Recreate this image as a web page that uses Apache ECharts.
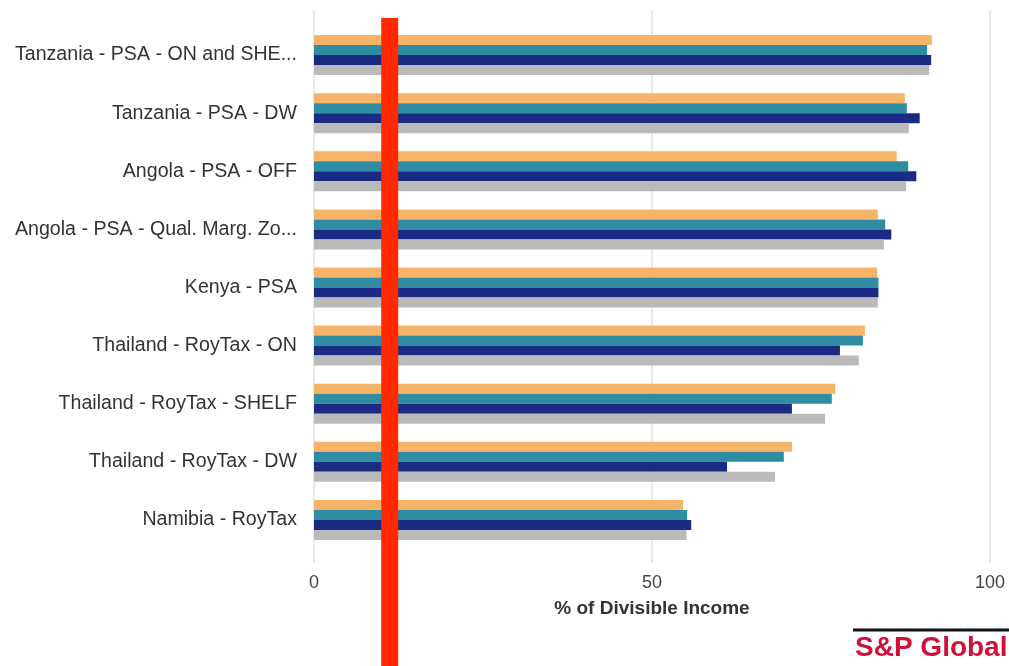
<!DOCTYPE html>
<html>
<head>
<meta charset="utf-8">
<script src="https://cdn.jsdelivr.net/npm/echarts@6/dist/echarts.min.js"></script>
<style>
html,body{margin:0;padding:0;background:#fff;}
#chart{width:1009px;height:666px;}
</style>
</head>
<body>
<div id="chart"></div>
<script>
const categories = [
  'Tanzania - PSA - ON and SHE...',
  'Tanzania - PSA - DW',
  'Angola - PSA - OFF',
  'Angola - PSA - Qual. Marg. Zo...',
  'Kenya - PSA',
  'Thailand - RoyTax - ON',
  'Thailand - RoyTax - SHELF',
  'Thailand - RoyTax - DW',
  'Namibia - RoyTax'
];
const seriesNames = ['Series 1', 'Series 2', 'Series 3', 'Series 4'];
const seriesOrange = [91.4, 87.4, 86.2, 83.4, 83.3, 81.5, 77.1, 70.7, 54.6];
const seriesTeal   = [90.7, 87.7, 87.9, 84.5, 83.5, 81.2, 76.6, 69.5, 55.2];
const seriesNavy   = [91.3, 89.6, 89.1, 85.4, 83.5, 77.8, 70.7, 61.1, 55.8];
const seriesGray   = [91.0, 88.0, 87.6, 84.3, 83.4, 80.6, 75.6, 68.2, 55.1];
const xTicks = [0, 50, 100];
const redLineValue = 11.2;
const colors = ['#f5b468', '#2f8ca2', '#1b2a82', '#bababa'];

const chart = echarts.init(document.getElementById('chart'), null, {renderer: 'canvas'});
const allData = [seriesOrange, seriesTeal, seriesNavy, seriesGray];

const option = {
  backgroundColor: '#ffffff',
  animation: false,
  textStyle: {fontFamily: '"Liberation Sans", Arial, sans-serif'},
  grid: [
    {left: 314, right: 19, top: 10, bottom: 103, containLabel: false},
    {left: 314, right: 19, top: 26, bottom: 117, containLabel: false}
  ],
  xAxis: [
    {
      gridIndex: 0, type: 'value', min: xTicks[0], max: xTicks[xTicks.length - 1], interval: 50,
      axisLine: {show: false},
      axisTick: {show: false},
      splitLine: {show: true, lineStyle: {color: '#e2e2e2', width: 1.5}},
      axisLabel: {fontSize: 18, color: '#444', margin: 11},
      name: '% of Divisible Income', nameLocation: 'middle', nameGap: 36,
      nameTextStyle: {fontSize: 19, fontWeight: 'bold', color: '#333'}
    },
    {
      gridIndex: 1, type: 'value', min: 0, max: 100, show: false
    }
  ],
  yAxis: [
    {gridIndex: 0, type: 'value', show: false},
    {
      gridIndex: 1, type: 'category', data: categories, inverse: true,
      axisLine: {show: false}, axisTick: {show: false}, splitLine: {show: false},
      axisLabel: {fontSize: 19.6, color: '#333', margin: 17}
    }
  ],
  series: allData.map((d, i) => ({
    name: seriesNames[i],
    type: 'bar',
    xAxisIndex: 1, yAxisIndex: 1,
    data: d,
    barWidth: 10,
    barGap: '0%',
    itemStyle: {color: colors[i]}
  }))
};
chart.setOption(option);

const px = chart.convertToPixel({xAxisIndex: 0}, redLineValue);
chart.setOption({
  graphic: [
    {type: 'rect', z: 100, shape: {x: px - 8.5, y: 18, width: 17, height: 648},
     style: {fill: '#ff2a00'}},
    {type: 'line', z: 100, shape: {x1: 853, y1: 630, x2: 1009, y2: 630},
     style: {stroke: '#111', lineWidth: 3}},
    {type: 'text', z: 100, x: 855, y: 634,
     style: {text: 'S&P Global', fill: '#d0103a', fontSize: 28, fontWeight: 'bold',
             fontFamily: '"Liberation Sans", Arial, sans-serif'}}
  ]
});
</script>
</body>
</html>
